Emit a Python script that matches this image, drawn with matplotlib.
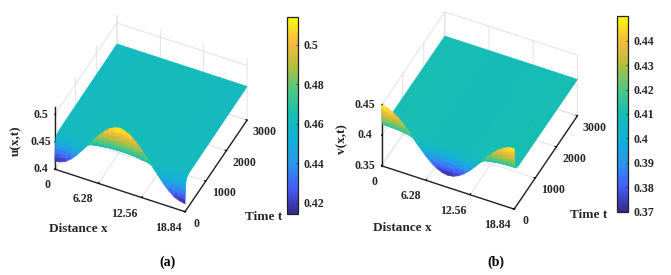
import numpy as np
import matplotlib
matplotlib.use("Agg")
import matplotlib.pyplot as plt
from matplotlib.colors import LinearSegmentedColormap
from mpl_toolkits.mplot3d import proj3d

plt.rcParams['font.family'] = ['Liberation Serif', 'DejaVu Serif']
plt.rcParams['font.weight'] = 'bold'

x_vals = [0.0, 0.785, 1.57, 2.355, 3.14, 3.925, 4.71, 5.495, 6.28, 7.065, 7.85, 8.635, 9.42,
          10.205, 10.99, 11.775, 12.56, 13.345, 14.13, 14.915, 15.7, 16.485, 17.27, 18.055, 18.84]
t_vals = [0, 5, 10, 20, 30, 40, 60, 100, 200, 3000]

u_vals = [
    [.4145, .4165, .4205, .4285, .4385, .4505, .4635, .4755, .4875, .4975, .5065, .5115, .514, .5115, .5065, .4975, .4875, .4755, .4635, .4505, .4385, .4285, .4205, .4165, .4145],
    [.422, .4237, .4271, .4338, .4422, .4523, .4632, .4733, .4833, .4917, .4993, .5035, .5056, .5035, .4993, .4917, .4833, .4733, .4632, .4523, .4422, .4338, .4271, .4237, .422],
    [.4286, .43, .4328, .4384, .4454, .4538, .4629, .4713, .4797, .4867, .493, .4965, .4983, .4965, .493, .4867, .4797, .4713, .4629, .4538, .4454, .4384, .4328, .43, .4286],
    [.438, .439, .441, .445, .45, .456, .4625, .4685, .4745, .4795, .484, .4865, .4878, .4865, .484, .4795, .4745, .4685, .4625, .456, .45, .445, .441, .439, .438],
    [.4446, .4453, .4467, .4496, .4532, .4575, .4622, .4665, .4709, .4745, .4777, .4795, .4804, .4795, .4777, .4745, .4709, .4665, .4622, .4575, .4532, .4496, .4467, .4453, .4446],
    [.4493, .4498, .4508, .4529, .4555, .4586, .462, .4651, .4683, .4709, .4732, .4745, .4752, .4745, .4732, .4709, .4683, .4651, .462, .4586, .4555, .4529, .4508, .4498, .4493],
    [.4549, .4552, .4558, .4569, .4583, .46, .4618, .4635, .4651, .4665, .4678, .4685, .4689, .4685, .4678, .4665, .4651, .4635, .4618, .46, .4583, .4569, .4558, .4552, .4549],
    [.4582, .4583, .4586, .4592, .4599, .4607, .4616, .4625, .4633, .464, .4647, .465, .4652, .465, .4647, .464, .4633, .4625, .4616, .4607, .4599, .4592, .4586, .4583, .4582],
    [.4601, .4601, .4603, .4605, .4608, .4612, .4616, .4619, .4623, .4626, .4629, .463, .4631, .463, .4629, .4626, .4623, .4619, .4616, .4612, .4608, .4605, .4603, .4601, .4601],
    [.4615] * 25,
]
v_vals = [
    [.45, .4486, .4446, .4383, .43, .4204, .41, .3996, .39, .3817, .3754, .3714, .37, .3714, .3754, .3817, .39, .3996, .41, .4204, .43, .4383, .4446, .4486, .45],
    [.4436, .4424, .4391, .4338, .4268, .4187, .41, .4013, .3932, .3862, .3809, .3776, .3764, .3776, .3809, .3862, .3932, .4013, .41, .4187, .4268, .4338, .4391, .4424, .4436],
    [.438, .437, .4342, .4298, .424, .4173, .41, .4027, .396, .3902, .3858, .383, .382, .383, .3858, .3902, .396, .4027, .41, .4173, .424, .4298, .4342, .437, .438],
    [.43, .4293, .4273, .4242, .42, .4152, .41, .4048, .40, .3958, .3927, .3907, .39, .3907, .3927, .3958, .40, .4048, .41, .4152, .42, .4242, .4273, .4293, .43],
    [.4244, .4239, .4225, .4202, .4172, .4137, .41, .4063, .4028, .3998, .3975, .3961, .3956, .3961, .3975, .3998, .4028, .4063, .41, .4137, .4172, .4202, .4225, .4239, .4244],
    [.4204, .42, .419, .4174, .4152, .4127, .41, .4073, .4048, .4026, .401, .40, .3996, .40, .401, .4026, .4048, .4073, .41, .4127, .4152, .4174, .419, .42, .4204],
    [.4156, .4154, .4148, .414, .4128, .4115, .41, .4085, .4072, .406, .4052, .4046, .4044, .4046, .4052, .406, .4072, .4085, .41, .4115, .4128, .414, .4148, .4154, .4156],
    [.4128, .4127, .4124, .412, .4114, .4107, .41, .4093, .4086, .408, .4076, .4073, .4072, .4073, .4076, .408, .4086, .4093, .41, .4107, .4114, .412, .4124, .4127, .4128],
    [.4112, .4112, .411, .4108, .4106, .4103, .41, .4097, .4094, .4092, .409, .4088, .4088, .4088, .409, .4092, .4094, .4097, .41, .4103, .4106, .4108, .411, .4112, .4112],
    [.41] * 25,
]

x_ticks = [0, 6.28, 12.56, 18.84]
x_labels = ['0', '6.28', '12.56', '18.84']
t_ticks = [0, 1000, 2000, 3000]
t_labels = ['0', '1000', '2000', '3000']
u_ticks = [0.4, 0.45, 0.5]
u_labels = ['0.4', '0.45', '0.5']
v_ticks = [0.35, 0.4, 0.45]
v_labels = ['0.35', '0.4', '0.45']
ucb_ticks = [0.42, 0.44, 0.46, 0.48, 0.5]
ucb_labels = ['0.42', '0.44', '0.46', '0.48', '0.5']
vcb_ticks = [0.37, 0.38, 0.39, 0.40, 0.41, 0.42, 0.43, 0.44]
vcb_labels = ['0.37', '0.38', '0.39', '0.4', '0.41', '0.42', '0.43', '0.44']

parula = LinearSegmentedColormap.from_list('parula', [
    (0.0, (.2081, .1663, .5292)),
    (.125, (.2780, .3556, .9777)),
    (.25, (.1540, .5902, .9218)),
    (.375, (.0689, .6948, .8394)),
    (.5, (.08, .74, .71)),
    (.625, (.30, .78, .52)),
    (.75, (.70, .75, .24)),
    (.875, (.98, .73, .24)),
    (1.0, (.9763, .9831, .0538)),
], N=256)

W, H = 671, 275
TXT = '#262626'
fig = plt.figure(figsize=(W / 100, H / 100), dpi=100)


def panel(cx, cy, size, zoom, lz, z_data, zlim, zticks):
    ax = fig.add_axes([(cx - size / 2) / W, 1 - (cy + size / 2) / H, size / W, size / H],
                      projection='3d', proj_type='ortho')
    ax.patch.set_alpha(0)
    X, T = np.meshgrid(x_vals, t_vals)
    Z = np.array(z_data)
    surf = ax.plot_surface(X, T, Z, cmap=parula, vmin=Z.min(), vmax=Z.max(), rstride=1, cstride=1,
                           linewidth=0.5, antialiased=True, shade=False)
    surf.set_edgecolor('face')
    ax.set_xlim(0, 18.84)
    ax.set_ylim(0, 3000)
    ax.set_zlim(*zlim)
    ax.set_box_aspect((146, 148, lz), zoom=zoom)
    ax.view_init(elev=44, azim=-64.8)
    ax.set_xticks(x_ticks)
    ax.set_yticks(t_ticks)
    ax.set_zticks(zticks)
    ax.set_xticklabels([])
    ax.set_yticklabels([])
    ax.set_zticklabels([])
    ax.zaxis.set_ticks_position('lower')
    for a in (ax.xaxis, ax.yaxis, ax.zaxis):
        a.set_pane_color((1, 1, 1, 0))
        a.pane.set_edgecolor('#dcdcdc')
        a.line.set_color('#222222')
        a.line.set_linewidth(1.0)
        a._axinfo['grid']['color'] = '#e2e2e2'
        a._axinfo['grid']['linewidth'] = 0.7
        a._axinfo['tick']['inward_factor'] = 0.0
        a._axinfo['tick']['outward_factor'] = 0.12
        a._axinfo['tick']['color'] = '#222222'
    return ax, surf


def label_ticks(ax, xs, ys, zs, labels, dx, dy):
    M = ax.get_proj()
    for i in range(len(labels)):
        px, py, _ = proj3d.proj_transform(xs[i], ys[i], zs[i], M)
        ddx = dx[i] if isinstance(dx, list) else dx
        ax.annotate(labels[i], xy=(px, py), xytext=(ddx, dy), textcoords='offset pixels',
                    ha='center', va='center', fontsize=8.6, color=TXT, annotation_clip=False)


def cbar(surf, left, top, bottom, ticks, labels):
    cax = fig.add_axes([left / W, 1 - bottom / H, 11.5 / W, (bottom - top) / H])
    cb = fig.colorbar(surf, cax=cax)
    cb.set_ticks(ticks, labels=labels)
    cb.ax.tick_params(labelsize=8.6, length=1.5, width=0.6, direction='in', pad=4, colors=TXT)
    cb.outline.set_linewidth(0.9)
    cb.outline.set_edgecolor('#222222')


ax1, s1 = panel(147.5, 117, 260, 0.83, 88, u_vals, (0.4, 0.514), u_ticks)
ax2, s2 = panel(476, 114, 260, 0.84, 84, v_vals, (0.35, 0.45), v_ticks)
fig.canvas.draw()

label_ticks(ax1, x_ticks, [0] * 4, [0.4] * 4, x_labels, [-7, -15, -17, -17], -16)
label_ticks(ax1, [18.84] * 4, t_ticks, [0.4] * 4, t_labels, [11, 18, 18, 17], -12)
label_ticks(ax1, [0] * 3, [0] * 3, u_ticks, u_labels, -14, 0)
label_ticks(ax2, x_ticks, [0] * 4, [0.35] * 4, x_labels, [-7, -15, -17, -17], -16)
label_ticks(ax2, [18.84] * 4, t_ticks, [0.35] * 4, t_labels, [11, 18, 18, 17], -12)
label_ticks(ax2, [0] * 3, [0] * 3, v_ticks, v_labels, -17, 0)

cbar(s1, 286.5, 17, 213.5, ucb_ticks, ucb_labels)
cbar(s2, 616.5, 16, 212, vcb_ticks, vcb_labels)

fig.text(78 / W, 1 - 229 / H, 'Distance x', ha='center', va='center', fontsize=9.5, color=TXT)
fig.text(264 / W, 1 - 217 / H, 'Time t', ha='center', va='center', fontsize=9.5, color=TXT)
fig.text(16 / W, 1 - 141 / H, 'u(x,t)', ha='center', va='center', fontsize=9.5, rotation=90, color=TXT)
fig.text(402 / W, 1 - 228 / H, 'Distance x', ha='center', va='center', fontsize=9.5, color=TXT)
fig.text(589 / W, 1 - 215 / H, 'Time t', ha='center', va='center', fontsize=9.5, color=TXT)
fig.text(342 / W, 1 - 139 / H, 'v(x,t)', ha='center', va='center', fontsize=9.5, rotation=90, color=TXT)
fig.text(167 / W, 1 - 262 / H, '(a)', ha='center', va='center', fontsize=10, color='black')
fig.text(496 / W, 1 - 262 / H, '(b)', ha='center', va='center', fontsize=10, color='black')

fig.savefig('out.png', dpi=100)
